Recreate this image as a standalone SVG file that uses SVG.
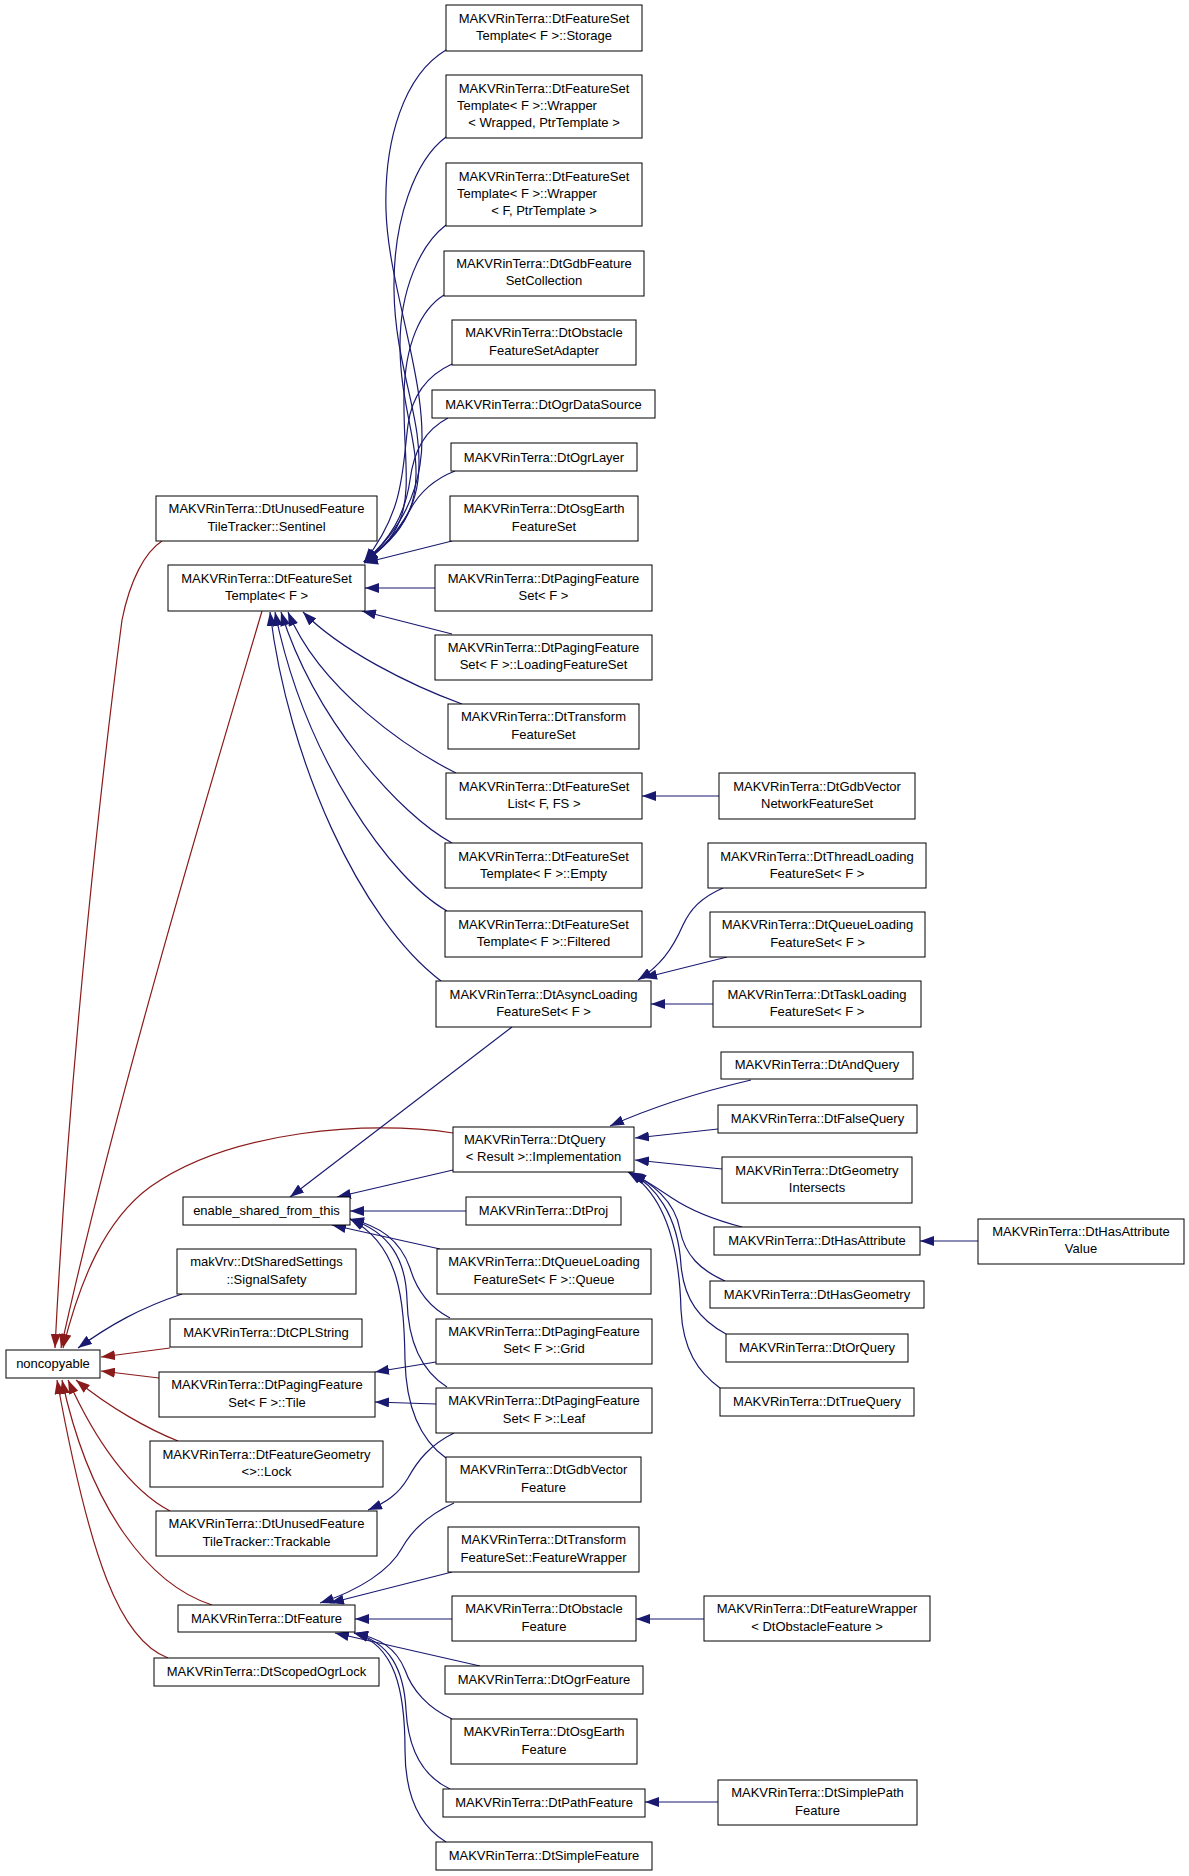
<svg xmlns="http://www.w3.org/2000/svg" width="1189" height="1876" viewBox="0 0 1189 1876">
<style>
.n rect{fill:#fff;stroke:#000;stroke-width:1}
.n text{font-family:"Liberation Sans",Arial,sans-serif;font-size:13px;fill:#000;text-anchor:middle}
.n text.l{text-anchor:start}
.eb{fill:none;stroke:#191970;stroke-width:1.2;marker-end:url(#ab)}
.er{fill:none;stroke:#8b1a1a;stroke-width:1.2;marker-end:url(#ar)}
</style>
<defs>
<marker id="ab" markerWidth="14" markerHeight="10" refX="14" refY="5" orient="auto" markerUnits="userSpaceOnUse"><path d="M0,0 L14,5 L0,10 z" fill="#191970"/></marker>
<marker id="ar" markerWidth="14" markerHeight="10" refX="14" refY="5" orient="auto" markerUnits="userSpaceOnUse"><path d="M0,0 L14,5 L0,10 z" fill="#8b1a1a"/></marker>
</defs>
<rect width="1189" height="1876" fill="#fff"/>
<g id="edges">
<path class="eb" d="M446,50 C404,75 384,140 386,210 C388,290 432,390 420,465 C413,510 390,540 364,562"/>
<path class="eb" d="M446,137 C415,160 393,220 394,290 C395,370 425,420 418,480 C413,520 390,542 364,562"/>
<path class="eb" d="M446,225 C420,245 400,290 400,345 C400,410 423,450 414,495 C408,525 388,545 364,562"/>
<path class="eb" d="M444,295 C420,310 405,345 404,395 C403,450 412,490 400,520 C392,540 380,550 364,562"/>
<path class="eb" d="M452,364 C428,375 412,395 408,425 C402,470 405,510 364,562"/>
<path class="eb" d="M448,418 C425,430 414,450 410,480 C405,515 390,540 364,562"/>
<path class="eb" d="M455,471 C432,480 418,495 410,510 C398,530 385,548 364,562"/>
<path class="eb" d="M452,541 L364,563"/>
<path class="eb" d="M435,588 L365,588"/>
<path class="eb" d="M452,634 L362,611"/>
<path class="eb" d="M462,704 C410,685 340,650 303,612"/>
<path class="eb" d="M456,773 C410,750 320,690 288,612"/>
<path class="eb" d="M452,843 C400,815 315,720 281,612"/>
<path class="eb" d="M447,911 C392,880 305,760 275,612"/>
<path class="eb" d="M441,981 C360,920 288,760 270,612"/>
<path class="eb" d="M719,796 L642,796"/>
<path class="eb" d="M723,888 C700,898 690,910 683,925 C672,950 660,966 638,980"/>
<path class="eb" d="M727,957 L643,978"/>
<path class="eb" d="M713,1004 L651,1004"/>
<path class="er" d="M162,541 C145,552 130,580 122,620 C105,750 70,1050 55,1348"/>
<path class="er" d="M262,611 C230,720 120,1080 61,1348"/>
<path class="er" d="M453,1133 C370,1120 230,1130 150,1187 C105,1220 80,1280 63,1348"/>
<path class="eb" d="M182,1294 C140,1308 110,1325 78,1348"/>
<path class="er" d="M170,1348 L101,1357"/>
<path class="er" d="M159,1378 L101,1371"/>
<path class="er" d="M178,1441 C150,1430 110,1408 76,1380"/>
<path class="er" d="M170,1511 C130,1490 95,1440 68,1380"/>
<path class="er" d="M212,1605 C150,1585 90,1510 62,1380"/>
<path class="er" d="M168,1658 C120,1640 90,1560 57,1380"/>
<path class="eb" d="M512,1027 L290,1197"/>
<path class="eb" d="M453,1170 L337,1197"/>
<path class="eb" d="M466,1211 L350,1211"/>
<path class="eb" d="M440,1249 L332,1225"/>
<path class="eb" d="M450,1318 C425,1305 415,1285 410,1268 C400,1240 380,1226 350,1219"/>
<path class="eb" d="M447,1387 C420,1370 408,1340 407,1300 C406,1260 390,1232 350,1219"/>
<path class="eb" d="M446,1458 C418,1438 406,1405 405,1360 C404,1300 400,1245 350,1219"/>
<path class="eb" d="M436,1362 L375,1372"/>
<path class="eb" d="M436,1404 L375,1402"/>
<path class="eb" d="M454,1433 C430,1445 418,1460 408,1478 C398,1495 385,1503 368,1510"/>
<path class="eb" d="M454,1503 C428,1515 412,1530 402,1548 C390,1570 360,1590 320,1603"/>
<path class="eb" d="M452,1572 L330,1603"/>
<path class="eb" d="M452,1619 L355,1619"/>
<path class="eb" d="M480,1666 L335,1633"/>
<path class="eb" d="M452,1719 C428,1708 412,1690 405,1670 C396,1648 380,1638 354,1633"/>
<path class="eb" d="M450,1789 C420,1775 408,1745 406,1710 C404,1670 390,1642 354,1633"/>
<path class="eb" d="M446,1842 C418,1825 405,1795 405,1750 C405,1690 395,1645 354,1633"/>
<path class="eb" d="M704,1619 L636,1619"/>
<path class="eb" d="M718,1802 L645,1802"/>
<path class="eb" d="M751,1080 C700,1092 650,1108 610,1126"/>
<path class="eb" d="M718,1129 L635,1138"/>
<path class="eb" d="M722,1169 L635,1160"/>
<path class="eb" d="M742,1227 C715,1220 690,1210 672,1198 C660,1190 645,1180 632,1173"/>
<path class="eb" d="M725,1281 C700,1270 685,1255 680,1230 C675,1200 650,1182 630,1173"/>
<path class="eb" d="M726,1334 C700,1320 684,1300 681,1265 C678,1215 655,1185 629,1172"/>
<path class="eb" d="M720,1388 C698,1372 683,1350 681,1310 C679,1230 657,1190 628,1172"/>
<path class="eb" d="M978,1241 L920,1241"/>
</g>
<g id="n_storage" class="n"><rect x="446" y="5" width="196" height="46"/><text x="544" y="23">MAKVRinTerra::DtFeatureSet</text><text x="544" y="40">Template&lt; F &gt;::Storage</text></g>
<g id="n_wrapW" class="n"><rect x="446" y="75" width="196" height="63"/><text x="544" y="93">MAKVRinTerra::DtFeatureSet</text><text class="l" x="457" y="110">Template&lt; F &gt;::Wrapper</text><text x="544" y="127">&lt; Wrapped, PtrTemplate &gt;</text></g>
<g id="n_wrapF" class="n"><rect x="446" y="163" width="196" height="63"/><text x="544" y="181">MAKVRinTerra::DtFeatureSet</text><text class="l" x="457" y="198">Template&lt; F &gt;::Wrapper</text><text x="544" y="215">&lt; F, PtrTemplate &gt;</text></g>
<g id="n_gdbcoll" class="n"><rect x="444" y="251" width="200" height="45"/><text x="544" y="268">MAKVRinTerra::DtGdbFeature</text><text x="544" y="285">SetCollection</text></g>
<g id="n_obsadapt" class="n"><rect x="452" y="320" width="184" height="45"/><text x="544" y="337">MAKVRinTerra::DtObstacle</text><text x="544" y="355">FeatureSetAdapter</text></g>
<g id="n_ogrds" class="n"><rect x="432" y="390" width="223" height="28"/><text x="543.5" y="408.5">MAKVRinTerra::DtOgrDataSource</text></g>
<g id="n_ogrlayer" class="n"><rect x="451" y="443" width="186" height="28"/><text x="544" y="461.5">MAKVRinTerra::DtOgrLayer</text></g>
<g id="n_osgfs" class="n"><rect x="450" y="496" width="188" height="45"/><text x="544" y="513">MAKVRinTerra::DtOsgEarth</text><text x="544" y="531">FeatureSet</text></g>
<g id="n_pagingfs" class="n"><rect x="435" y="565" width="217" height="46"/><text x="543.5" y="583">MAKVRinTerra::DtPagingFeature</text><text x="543.5" y="600">Set&lt; F &gt;</text></g>
<g id="n_loadingfs" class="n"><rect x="435" y="635" width="217" height="45"/><text x="543.5" y="652">MAKVRinTerra::DtPagingFeature</text><text x="543.5" y="669">Set&lt; F &gt;::LoadingFeatureSet</text></g>
<g id="n_transformfs" class="n"><rect x="448" y="704" width="191" height="45"/><text x="543.5" y="721">MAKVRinTerra::DtTransform</text><text x="543.5" y="739">FeatureSet</text></g>
<g id="n_fslist" class="n"><rect x="446" y="773" width="196" height="46"/><text x="544" y="791">MAKVRinTerra::DtFeatureSet</text><text x="544" y="808">List&lt; F, FS &gt;</text></g>
<g id="n_gdbnet" class="n"><rect x="719" y="773" width="196" height="46"/><text x="817" y="791">MAKVRinTerra::DtGdbVector</text><text x="817" y="808">NetworkFeatureSet</text></g>
<g id="n_empty" class="n"><rect x="445" y="843" width="197" height="45"/><text x="543.5" y="861">MAKVRinTerra::DtFeatureSet</text><text x="543.5" y="878">Template&lt; F &gt;::Empty</text></g>
<g id="n_filtered" class="n"><rect x="445" y="911" width="197" height="46"/><text x="543.5" y="929">MAKVRinTerra::DtFeatureSet</text><text x="543.5" y="946">Template&lt; F &gt;::Filtered</text></g>
<g id="n_async" class="n"><rect x="436" y="981" width="215" height="46"/><text x="543.5" y="999">MAKVRinTerra::DtAsyncLoading</text><text x="543.5" y="1016">FeatureSet&lt; F &gt;</text></g>
<g id="n_thread" class="n"><rect x="708" y="843" width="218" height="45"/><text x="817" y="861">MAKVRinTerra::DtThreadLoading</text><text x="817" y="878">FeatureSet&lt; F &gt;</text></g>
<g id="n_queueL" class="n"><rect x="710" y="912" width="215" height="45"/><text x="817.5" y="929">MAKVRinTerra::DtQueueLoading</text><text x="817.5" y="947">FeatureSet&lt; F &gt;</text></g>
<g id="n_task" class="n"><rect x="713" y="981" width="208" height="46"/><text x="817" y="999">MAKVRinTerra::DtTaskLoading</text><text x="817" y="1016">FeatureSet&lt; F &gt;</text></g>
<g id="n_sentinel" class="n"><rect x="156" y="496" width="221" height="45"/><text x="266.5" y="513">MAKVRinTerra::DtUnusedFeature</text><text x="266.5" y="531">TileTracker::Sentinel</text></g>
<g id="n_fst" class="n"><rect x="168" y="565" width="197" height="46"/><text x="266.5" y="583">MAKVRinTerra::DtFeatureSet</text><text x="266.5" y="600">Template&lt; F &gt;</text></g>
<g id="n_and" class="n"><rect x="721" y="1052" width="192" height="27"/><text x="817" y="1069">MAKVRinTerra::DtAndQuery</text></g>
<g id="n_false" class="n"><rect x="718" y="1105" width="199" height="28"/><text x="817.5" y="1123">MAKVRinTerra::DtFalseQuery</text></g>
<g id="n_geom" class="n"><rect x="722" y="1157" width="190" height="46"/><text x="817" y="1175">MAKVRinTerra::DtGeometry</text><text x="817" y="1192">Intersects</text></g>
<g id="n_hasattr" class="n"><rect x="714" y="1227" width="206" height="28"/><text x="817" y="1245">MAKVRinTerra::DtHasAttribute</text></g>
<g id="n_hasattrval" class="n"><rect x="978" y="1219" width="206" height="45"/><text x="1081" y="1236">MAKVRinTerra::DtHasAttribute</text><text x="1081" y="1253">Value</text></g>
<g id="n_hasgeom" class="n"><rect x="710" y="1281" width="214" height="27"/><text x="817" y="1299">MAKVRinTerra::DtHasGeometry</text></g>
<g id="n_or" class="n"><rect x="726" y="1334" width="182" height="28"/><text x="817" y="1352">MAKVRinTerra::DtOrQuery</text></g>
<g id="n_true" class="n"><rect x="720" y="1388" width="194" height="28"/><text x="817" y="1406">MAKVRinTerra::DtTrueQuery</text></g>
<g id="n_impl" class="n"><rect x="453" y="1127" width="181" height="45"/><text class="l" x="464" y="1144">MAKVRinTerra::DtQuery</text><text x="543.5" y="1161">&lt; Result &gt;::Implementation</text></g>
<g id="n_esft" class="n"><rect x="183" y="1197" width="167" height="28"/><text x="266.5" y="1215">enable_shared_from_this</text></g>
<g id="n_proj" class="n"><rect x="466" y="1197" width="155" height="28"/><text x="543.5" y="1215">MAKVRinTerra::DtProj</text></g>
<g id="n_queue" class="n"><rect x="437" y="1249" width="214" height="45"/><text x="544" y="1266">MAKVRinTerra::DtQueueLoading</text><text x="544" y="1284">FeatureSet&lt; F &gt;::Queue</text></g>
<g id="n_grid" class="n"><rect x="436" y="1319" width="216" height="45"/><text x="544" y="1336">MAKVRinTerra::DtPagingFeature</text><text x="544" y="1353">Set&lt; F &gt;::Grid</text></g>
<g id="n_leaf" class="n"><rect x="436" y="1388" width="216" height="45"/><text x="544" y="1405">MAKVRinTerra::DtPagingFeature</text><text x="544" y="1423">Set&lt; F &gt;::Leaf</text></g>
<g id="n_signal" class="n"><rect x="177" y="1249" width="179" height="45"/><text x="266.5" y="1266">makVrv::DtSharedSettings</text><text x="266.5" y="1284">::SignalSafety</text></g>
<g id="n_cpl" class="n"><rect x="170" y="1319" width="192" height="28"/><text x="266" y="1337">MAKVRinTerra::DtCPLString</text></g>
<g id="n_noncopy" class="n"><rect x="6" y="1350" width="94" height="28"/><text x="53" y="1368">noncopyable</text></g>
<g id="n_tile" class="n"><rect x="159" y="1372" width="216" height="45"/><text x="267" y="1389">MAKVRinTerra::DtPagingFeature</text><text x="267" y="1407">Set&lt; F &gt;::Tile</text></g>
<g id="n_lock" class="n"><rect x="150" y="1441" width="233" height="46"/><text x="266.5" y="1459">MAKVRinTerra::DtFeatureGeometry</text><text x="266.5" y="1476">&lt;&gt;::Lock</text></g>
<g id="n_trackable" class="n"><rect x="156" y="1511" width="221" height="45"/><text x="266.5" y="1528">MAKVRinTerra::DtUnusedFeature</text><text x="266.5" y="1546">TileTracker::Trackable</text></g>
<g id="n_feature" class="n"><rect x="178" y="1605" width="177" height="27"/><text x="266.5" y="1623">MAKVRinTerra::DtFeature</text></g>
<g id="n_scoped" class="n"><rect x="154" y="1658" width="225" height="28"/><text x="266.5" y="1676">MAKVRinTerra::DtScopedOgrLock</text></g>
<g id="n_gdbvf" class="n"><rect x="446" y="1457" width="195" height="45"/><text x="543.5" y="1474">MAKVRinTerra::DtGdbVector</text><text x="543.5" y="1492">Feature</text></g>
<g id="n_fw" class="n"><rect x="448" y="1527" width="191" height="45"/><text x="543.5" y="1544">MAKVRinTerra::DtTransform</text><text x="543.5" y="1562">FeatureSet::FeatureWrapper</text></g>
<g id="n_obsf" class="n"><rect x="452" y="1596" width="184" height="45"/><text x="544" y="1613">MAKVRinTerra::DtObstacle</text><text x="544" y="1631">Feature</text></g>
<g id="n_fwobs" class="n"><rect x="704" y="1596" width="226" height="45"/><text x="817" y="1613">MAKVRinTerra::DtFeatureWrapper</text><text x="817" y="1631">&lt; DtObstacleFeature &gt;</text></g>
<g id="n_ogrf" class="n"><rect x="445" y="1666" width="198" height="28"/><text x="544" y="1684">MAKVRinTerra::DtOgrFeature</text></g>
<g id="n_osgf" class="n"><rect x="451" y="1719" width="186" height="45"/><text x="544" y="1736">MAKVRinTerra::DtOsgEarth</text><text x="544" y="1754">Feature</text></g>
<g id="n_path" class="n"><rect x="443" y="1789" width="202" height="28"/><text x="544" y="1807">MAKVRinTerra::DtPathFeature</text></g>
<g id="n_simplepath" class="n"><rect x="718" y="1780" width="199" height="45"/><text x="817.5" y="1797">MAKVRinTerra::DtSimplePath</text><text x="817.5" y="1815">Feature</text></g>
<g id="n_simple" class="n"><rect x="436" y="1842" width="216" height="28"/><text x="544" y="1860">MAKVRinTerra::DtSimpleFeature</text></g>
</svg>
